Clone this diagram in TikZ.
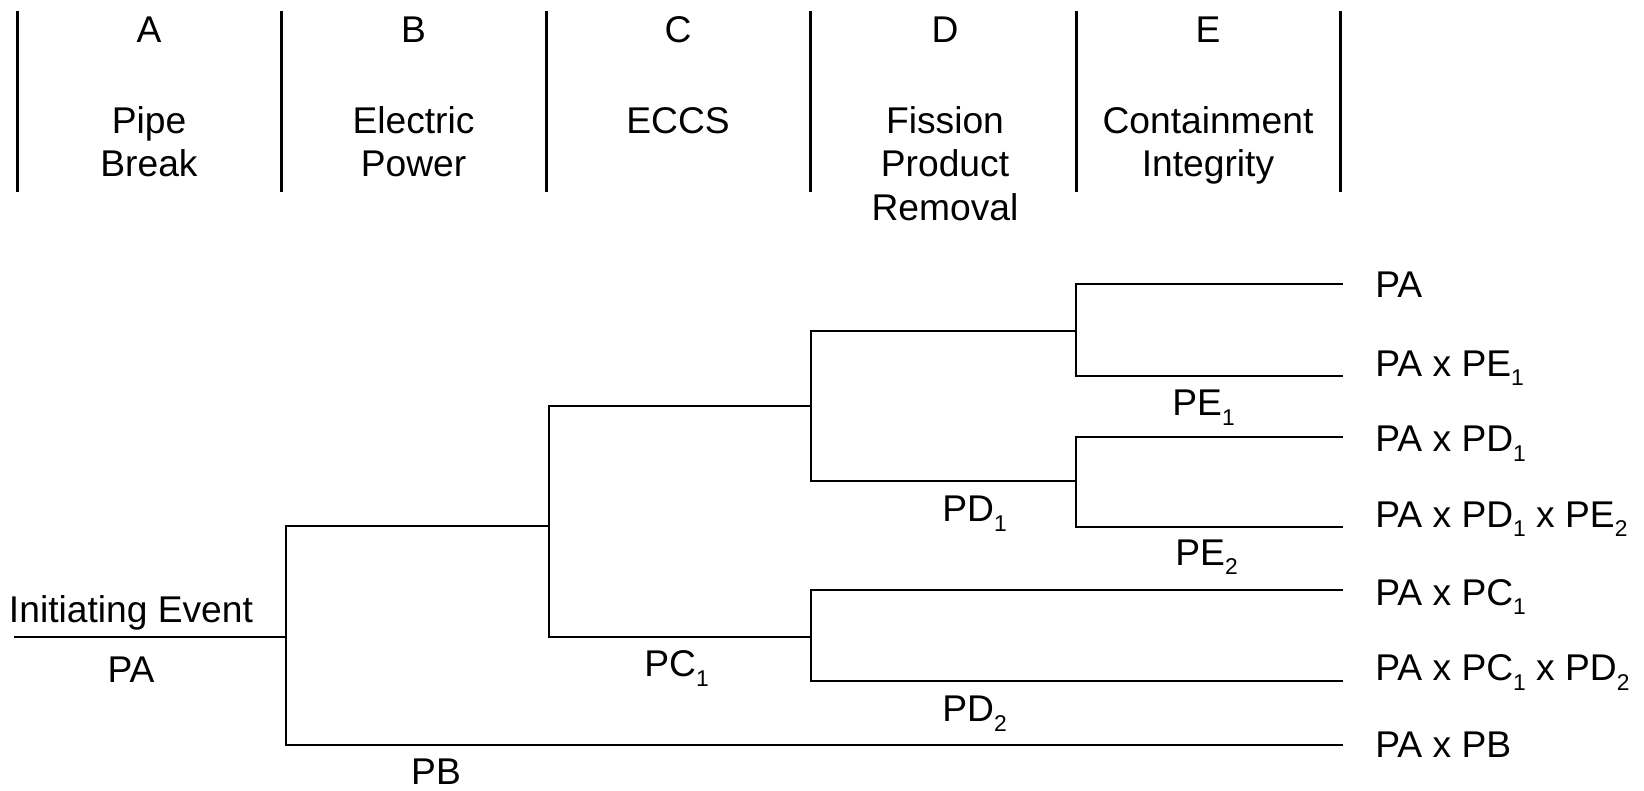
\documentclass[tikz,border=0pt]{standalone}
\usepackage{fontspec}
\setmainfont{Liberation Sans}
\newcommand\sbs[1]{\raisebox{-0.25em}{\fontsize{11.4pt}{12pt}\selectfont #1}}
\begin{document}
\begin{tikzpicture}[x=0.5pt,y=-0.5pt,
  tree/.style={line width=1.3pt, line cap=rect},
  hdr/.style={line width=1.5pt},
  txt/.style={inner sep=0pt, font=\fontsize{18.6pt}{22pt}\selectfont},
  hd/.style={txt, anchor=base},
  lbl/.style={txt, anchor=base west}]
\useasboundingbox (0,0) rectangle (1644,791);
% header column separators
\foreach \x in {17,281,546,810,1076,1340}
  \draw[hdr] (\x,11) -- (\x,192);
% header texts
\node[hd] (hA) at (149,42.7) {A};
\node[hd] (hB) at (413.5,42.7) {B};
\node[hd] (hC) at (678,42.7) {C};
\node[hd] (hD) at (945,42.7) {D};
\node[hd] (hE) at (1208,42.7) {E};
\node[hd] (tA1) at (149,133.3) {Pipe};
\node[hd] (tA2) at (149,176.7) {Break};
\node[hd] (tB1) at (413.5,133.3) {Electric};
\node[hd] (tB2) at (413.5,176.7) {Power};
\node[hd] (tC1) at (678,133.3) {ECCS};
\node[hd] (tD1) at (945,133.3) {Fission};
\node[hd] (tD2) at (945,176.7) {Product};
\node[hd] (tD3) at (945,220.7) {Removal};
\node[hd] (tE1) at (1208,133.3) {Containment};
\node[hd] (tE2) at (1208,176.7) {Integrity};
% tree coordinates
\coordinate (ie) at (15,637);
\coordinate (b0) at (286,637);
\coordinate (bU) at (286,526);
\coordinate (bD) at (286,745);
\coordinate (c0) at (549,526);
\coordinate (cU) at (549,406);
\coordinate (cD) at (549,637);
\coordinate (dU) at (811,406);
\coordinate (dD) at (811,637);
\coordinate (dUa) at (811,331);
\coordinate (dUb) at (811,481);
\coordinate (dDa) at (811,590);
\coordinate (dDb) at (811,681);
\coordinate (eU) at (1076,331);
\coordinate (eD) at (1076,481);
\coordinate (eUa) at (1076,284);
\coordinate (eUb) at (1076,376);
\coordinate (eDa) at (1076,437);
\coordinate (eDb) at (1076,527);
\coordinate (o1) at (1342,284);
\coordinate (o2) at (1342,376);
\coordinate (o3) at (1342,437);
\coordinate (o4) at (1342,527);
\coordinate (o5) at (1342,590);
\coordinate (o6) at (1342,681);
\coordinate (o7) at (1342,745);
% tree lines
\draw[tree] (ie) -- (b0);
\draw[tree] (bU) -- (bD);
\draw[tree] (bU) -- (c0);
\draw[tree] (bD) -- (o7);
\draw[tree] (cU) -- (cD);
\draw[tree] (cU) -- (dU);
\draw[tree] (cD) -- (dD);
\draw[tree] (dUa) -- (dUb);
\draw[tree] (dDa) -- (dDb);
\draw[tree] (dUa) -- (eU);
\draw[tree] (dUb) -- (eD);
\draw[tree] (dDa) -- (o5);
\draw[tree] (dDb) -- (o6);
\draw[tree] (eUa) -- (eUb);
\draw[tree] (eDa) -- (eDb);
\draw[tree] (eUa) -- (o1);
\draw[tree] (eUb) -- (o2);
\draw[tree] (eDa) -- (o3);
\draw[tree] (eDb) -- (o4);
% branch labels
\node[hd] (lie) at (131,622) {Initiating Event};
\node[hd] (lpa) at (131,682) {PA};
\node[hd] (lpb) at (436,784.5) {PB};
\node[lbl] (lpc) at (644,676.7) {PC\sbs{1}};
\node[lbl] (lpd1) at (942,521.7) {PD\sbs{1}};
\node[lbl] (lpd2) at (942,721.7) {PD\sbs{2}};
\node[lbl] (lpe1) at (1172,415.7) {PE\sbs{1}};
\node[lbl] (lpe2) at (1175,565) {PE\sbs{2}};
% outcomes
\node[lbl] (r1) at (1375,297.7) {PA};
\node[lbl] (r2) at (1375,376) {PA x PE\sbs{1}};
\node[lbl] (r3) at (1375,451.7) {PA x PD\sbs{1}};
\node[lbl] (r4) at (1375,527) {PA x PD\sbs{1} x PE\sbs{2}};
\node[lbl] (r5) at (1375,605) {PA x PC\sbs{1}};
\node[lbl] (r6) at (1375,680.7) {PA x PC\sbs{1} x PD\sbs{2}};
\node[lbl] (r7) at (1375,757) {PA x PB};
\end{tikzpicture}
\end{document}
